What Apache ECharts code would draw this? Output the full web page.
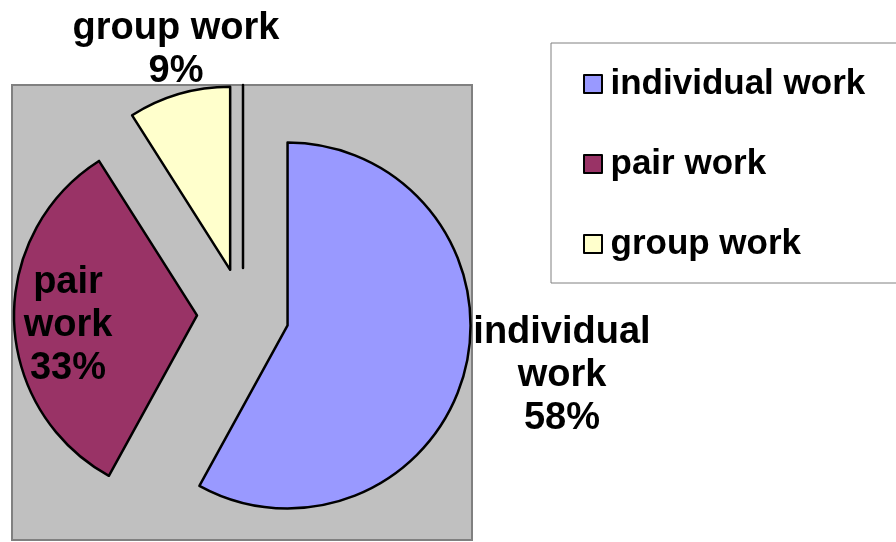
<!DOCTYPE html>
<html>
<head>
<meta charset="utf-8">
<script src="https://cdn.jsdelivr.net/npm/echarts@6/dist/echarts.min.js"></script>
<style>
  html, body { margin: 0; padding: 0; background: #fff; }
  #chart { width: 896px; height: 542px; }
</style>
</head>
<body>
<div id="chart"></div>
<script>
// 数据
const categories = ['individual work', 'pair work', 'group work']
const values = [58, 33, 9]
const labelNames = ['individual\nwork', 'pair\nwork', 'group work']
const colors = ['#9999FF', '#993366', '#FFFFCC']

// 数据标签位置（文字块中心）
const labelPos = [[562, 376], [68, 326], [176, 50]]

const FONT = 'Liberation Sans, Arial, sans-serif'

const chart = echarts.init(document.getElementById('chart'))

const total = values.reduce((a, b) => a + b, 0)

const pieData = categories.map((name, i) => ({
  name: name,
  value: values[i],
  selected: true,
  itemStyle: { color: colors[i] }
}))
// 零值扇区（原图中的竖线）
pieData.push({
  name: '',
  value: 0,
  selected: true,
  itemStyle: { color: 'transparent' }
})

// 数据标签
const labelTexts = categories.map((name, i) => ({
  type: 'text',
  z: 10,
  style: {
    x: labelPos[i][0],
    y: labelPos[i][1],
    text: labelNames[i] + '\n' + Math.round(values[i] / total * 100) + '%',
    font: 'bold 38px ' + FONT,
    lineHeight: 43,
    fill: '#000',
    align: 'center',
    verticalAlign: 'middle'
  }
}))

const option = {
  backgroundColor: '#ffffff',
  animation: false,
  graphic: [
    {
      type: 'rect',
      z: 0,
      shape: { x: 12, y: 85, width: 460, height: 455 },
      style: { fill: '#c0c0c0', stroke: '#808080', lineWidth: 2 }
    },
    ...labelTexts
  ],
  legend: {
    data: categories,
    orient: 'vertical',
    left: 551,
    top: 43,
    padding: [23, 120, 21, 32],
    itemGap: 44,
    itemWidth: 25,
    itemHeight: 18,
    icon: 'path://M0 0H10V10H0Z',
    symbolKeepAspect: true,
    backgroundColor: '#ffffff',
    borderColor: '#808080',
    borderWidth: 1,
    borderRadius: 0,
    itemStyle: { borderColor: '#000', borderWidth: 2 },
    textStyle: {
      fontFamily: FONT,
      fontWeight: 'bold',
      fontSize: 35,
      lineHeight: 36,
      color: '#000'
    },
    selectedMode: false
  },
  series: [
    {
      type: 'pie',
      center: [243, 314],
      radius: 183,
      startAngle: 90,
      clockwise: true,
      selectedMode: 'multiple',
      selectedOffset: 46,
      avoidLabelOverlap: false,
      emphasis: { disabled: true },
      itemStyle: { borderColor: '#000', borderWidth: 2.5 },
      label: { show: false },
      labelLine: { show: false },
      data: pieData
    }
  ]
}

chart.setOption(option)
</script>
</body>
</html>
